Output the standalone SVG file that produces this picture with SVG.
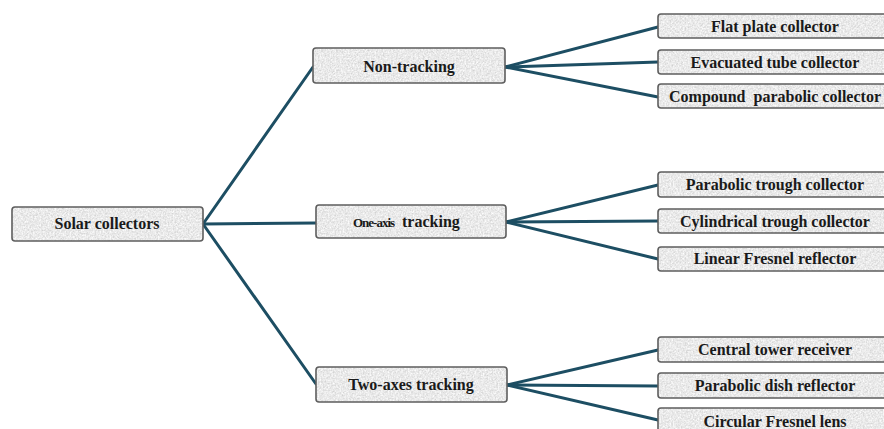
<svg xmlns="http://www.w3.org/2000/svg" width="884" height="429" viewBox="0 0 884 429">
<defs>
<filter id="noise" x="0" y="0" width="100%" height="100%">
<feTurbulence type="fractalNoise" baseFrequency="0.6" numOctaves="3" stitchTiles="stitch" seed="4"/>
<feColorMatrix type="matrix" values="0.5 0 0 0 0.57  0.5 0 0 0 0.57  0.5 0 0 0 0.57  0 0 0 0 1"/>
</filter>
<pattern id="tex" patternUnits="userSpaceOnUse" width="240" height="240">
<rect width="240" height="240" filter="url(#noise)"/>
</pattern>
</defs>
<style>
.box{fill:url(#tex);stroke:#5e5e5e;stroke-width:1.6}
.lbl{font-family:"Liberation Serif","Times New Roman",serif;font-weight:bold;font-size:16px;fill:#1a1a1a;text-anchor:middle}
.small{font-size:13px;letter-spacing:-1px;text-anchor:start}
.start{text-anchor:start}
.edge{stroke:#1d4e63;stroke-width:3;fill:none;stroke-linecap:round}
</style>
<rect width="884" height="429" fill="#ffffff"/>
<g id="connectors">
<line class="edge" x1="203" y1="224" x2="313" y2="67"/>
<line class="edge" x1="203" y1="224" x2="316" y2="223"/>
<line class="edge" x1="203" y1="224" x2="316" y2="384"/>
<line class="edge" x1="505" y1="67" x2="658" y2="27"/>
<line class="edge" x1="505" y1="67" x2="658" y2="62"/>
<line class="edge" x1="505" y1="67" x2="658" y2="97"/>
<line class="edge" x1="506" y1="222" x2="658" y2="185"/>
<line class="edge" x1="506" y1="222" x2="658" y2="221"/>
<line class="edge" x1="506" y1="222" x2="658" y2="259"/>
<line class="edge" x1="507" y1="385" x2="658" y2="350"/>
<line class="edge" x1="507" y1="385" x2="658" y2="386"/>
<line class="edge" x1="507" y1="385" x2="658" y2="420"/>
</g>
<g id="solar-collectors">
<rect class="box" x="12" y="207" width="191" height="34" rx="3"/>
<text class="lbl" x="107" y="229">Solar collectors</text>
</g>
<g id="non-tracking">
<rect class="box" x="313" y="48" width="192" height="35" rx="3"/>
<text class="lbl" x="409" y="72">Non-tracking</text>
</g>
<g id="one-axis-tracking">
<rect class="box" x="316" y="205" width="190" height="33" rx="3"/>
<text class="lbl small" x="353" y="227">One-axis</text>
<text class="lbl start" x="402" y="227">tracking</text>
</g>
<g id="two-axes-tracking">
<rect class="box" x="316" y="367" width="191" height="35" rx="3"/>
<text class="lbl" x="411" y="390">Two-axes tracking</text>
</g>
<g id="flat-plate">
<rect class="box" x="658" y="14" width="236" height="24" rx="3"/>
<text class="lbl" x="775" y="32">Flat plate collector</text>
</g>
<g id="evacuated-tube">
<rect class="box" x="658" y="50" width="236" height="24" rx="3"/>
<text class="lbl" x="775" y="68">Evacuated tube collector</text>
</g>
<g id="compound-parabolic">
<rect class="box" x="658" y="84" width="236" height="24" rx="3"/>
<text class="lbl" x="775" y="102" xml:space="preserve">Compound  parabolic collector</text>
</g>
<g id="parabolic-trough">
<rect class="box" x="658" y="172" width="236" height="25" rx="3"/>
<text class="lbl" x="775" y="190">Parabolic trough collector</text>
</g>
<g id="cylindrical-trough">
<rect class="box" x="658" y="209" width="236" height="24" rx="3"/>
<text class="lbl" x="775" y="227">Cylindrical trough collector</text>
</g>
<g id="linear-fresnel">
<rect class="box" x="658" y="247" width="236" height="24" rx="3"/>
<text class="lbl" x="775" y="264">Linear Fresnel reflector</text>
</g>
<g id="central-tower">
<rect class="box" x="658" y="337" width="236" height="25" rx="3"/>
<text class="lbl" x="775" y="355">Central tower receiver</text>
</g>
<g id="parabolic-dish">
<rect class="box" x="658" y="373" width="236" height="25" rx="3"/>
<text class="lbl" x="775" y="391">Parabolic dish reflector</text>
</g>
<g id="circular-fresnel">
<rect class="box" x="658" y="408" width="236" height="26" rx="3"/>
<text class="lbl" x="775" y="427">Circular Fresnel lens</text>
</g>
</svg>
